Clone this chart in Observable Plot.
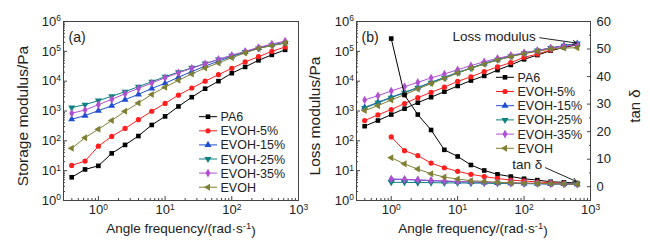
<!DOCTYPE html>
<html><head><meta charset="utf-8">
<script src="https://cdn.jsdelivr.net/npm/d3@7"></script>
<script src="https://cdn.jsdelivr.net/npm/@observablehq/plot@0.6"></script>
<style>
body{margin:0;background:#fff;}
#chart{position:relative;width:650px;height:244px;overflow:hidden;background:#fff;}
#chart > div{position:absolute;top:0;}
</style></head><body><div id="chart"></div>
<script>
// ---------- data ----------
const freq = [0.398, 0.631, 1, 1.585, 2.512, 3.981, 6.31, 10, 15.85, 25.12, 39.81, 63.1, 100, 158.5, 251.2, 398.1, 631];
const freqTan = [1, 1.585, 2.512, 3.981, 6.31, 10, 15.85, 25.12, 39.81, 63.1, 100, 158.5, 251.2, 398.1, 631];
const seriesNames = ["PA6", "EVOH-5%", "EVOH-15%", "EVOH-25%", "EVOH-35%", "EVOH"];

// storage modulus (Pa)
const storagePA6   = [6, 11, 14.5, 38, 73, 145, 340, 660, 1420, 2900, 5600, 10000, 18500, 30000, 50000, 76000, 112000];
const storageE5    = [15, 21, 66, 140, 260, 510, 980, 1800, 3400, 5900, 10000, 16500, 27000, 44000, 66000, 100000, 140000];
const storageE15   = [530, 700, 1030, 1500, 2400, 3600, 5700, 8500, 13500, 21000, 32000, 47000, 67000, 95000, 130000, 165000, 200000];
const storageE25   = [1300, 1630, 2230, 3100, 4450, 6550, 9600, 14100, 20000, 28000, 39000, 53000, 71000, 95000, 125000, 160000, 190000];
const storageE35   = [840, 1080, 1630, 2450, 3800, 5700, 8700, 13000, 19000, 27000, 38000, 54000, 74000, 100000, 135000, 175000, 220000];
const storageEVOH  = [56, 128, 245, 480, 980, 1850, 3600, 6300, 10700, 17500, 27500, 41000, 61000, 88000, 125000, 155000, 190000];

// loss modulus (Pa)
const lossPA6  = [310, 480, 760, 1200, 1900, 2900, 4450, 6900, 10500, 15000, 23500, 35000, 54000, 75000, 105000, 135000, 165000];
const lossE5   = [480, 740, 1120, 1780, 2800, 4200, 6300, 9800, 14000, 21000, 30000, 42000, 63000, 81000, 110000, 142000, 170000];
const lossE15  = [1320, 1950, 2900, 4200, 6150, 9100, 13400, 19600, 27500, 39500, 53000, 69000, 87000, 107000, 129000, 155000, 184000];
const lossE25  = [1250, 1880, 2800, 4100, 6000, 8900, 13100, 19200, 27000, 39000, 52000, 68000, 86000, 106000, 128000, 154000, 182000];
const lossE35  = [2350, 3250, 4700, 6550, 9100, 12800, 17400, 24200, 33000, 45000, 58000, 73000, 90000, 107000, 129000, 151000, 170000];
const lossEVOH = [1030, 1510, 2350, 3530, 5450, 8300, 12300, 18700, 27000, 37000, 51000, 66000, 83000, 100000, 120000, 129000, 132000];

// tan delta
const tanPA6  = [53.8, 33.3, 26.2, 20.6, 13.4, 11.0, 7.9, 5.9, 4.5, 3.7, 2.9, 2.4, 1.8, 1.6, 1.3];
const tanE5   = [18.1, 13.1, 11.3, 8.6, 6.9, 5.6, 4.5, 3.7, 3.0, 2.4, 2.1, 1.7, 1.5, 1.2, 1.0];
const tanE15  = [2.7, 2.6, 2.4, 2.2, 2.0, 1.8, 1.7, 1.5, 1.4, 1.3, 1.2, 1.1, 1.0, 1.0, 0.9];
const tanE25  = [1.6, 1.6, 1.5, 1.5, 1.4, 1.4, 1.3, 1.3, 1.2, 1.2, 1.1, 1.1, 1.0, 1.0, 0.9];
const tanE35  = [2.8, 2.7, 2.5, 2.3, 2.1, 1.9, 1.8, 1.6, 1.5, 1.4, 1.3, 1.2, 1.1, 1.0, 0.9];
const tanEVOH = [10.5, 8.3, 6.4, 4.7, 3.5, 2.8, 2.2, 1.9, 1.6, 1.4, 1.3, 1.2, 1.1, 1.0, 0.9];

// ticks
const xMajorTicks = [1, 10, 100, 1000];
const yMajorTicks = [1, 10, 100, 1000, 10000, 100000, 1000000];
const tanTicks = [0, 10, 20, 30, 40, 50, 60];
const tanMinorTicks = [-5, 5, 15, 25, 35, 45, 55];

// annotations
const lossNote = [{x: 150, y: 3.0e5, text: "Loss modulus", x1: 172, y1: 2.85e5, x2: 615, y2: 1.9e5}];
const tanNote = [{x: 188, y: 8.0, text: "tan δ", x1: 210, y1: 6.9, x2: 615, y2: 1.9}];

// ---------- style ----------
const colors = ["#000000", "#ff1f1f", "#1f4fd0", "#0f8080", "#b050d0", "#808035"];
const symbols = ["square", "circle", "triangle", "triangle", "diamond", "triangle"];
const d3symbols = [d3.symbolSquare, d3.symbolCircle, d3.symbolTriangle, d3.symbolTriangle, d3.symbolDiamond, d3.symbolTriangle];
const rotations = [0, 0, 0, 180, 0, -90];
const FONT = '"Liberation Sans", Arial, Helvetica, sans-serif';
const INK = "#222";
const FRAME = "#444";
const R = 2.6;

function minorLog(lo, hi) {
  const out = [];
  for (let e = lo; e < hi; e++) for (let k = 2; k <= 9; k++) out.push(k * Math.pow(10, e));
  return out;
}
const xMinorTicks = minorLog(-1, 3).filter(v => v >= 0.3);
const yMinorTicks = minorLog(0, 6);
const pow = d => "10^" + Math.round(Math.log10(d));
const blank = () => "";

function seriesMarks(xs, list) {
  const marks = [];
  list.forEach((vals, i) => {
    const data = vals.map((v, j) => ({x: xs[j], y: v}));
    marks.push(Plot.line(data, {x: "x", y: "y", stroke: colors[i], strokeWidth: 1}));
    marks.push(Plot.dot(data, {x: "x", y: "y", symbol: symbols[i], fill: colors[i], stroke: "none", r: R, rotate: rotations[i]}));
  });
  return marks;
}

function logAxes() {
  return [
    Plot.axisX({ticks: xMajorTicks, tickSize: 0, tickPadding: 4, tickFormat: pow, label: null, fill: INK}),
    Plot.axisX({ticks: xMajorTicks, tickSize: -4, tickFormat: blank, label: null, stroke: FRAME}),
    Plot.axisX({ticks: xMinorTicks, tickSize: -2, tickFormat: blank, label: null, stroke: FRAME}),
    Plot.axisY({ticks: yMajorTicks, tickSize: 0, tickPadding: 2.5, tickFormat: pow, label: null, fill: INK}),
    Plot.axisY({ticks: yMajorTicks, tickSize: -4, tickFormat: blank, label: null, stroke: FRAME}),
    Plot.axisY({ticks: yMinorTicks, tickSize: -2, tickFormat: blank, label: null, stroke: FRAME})
  ];
}

function superscripts(svg) {
  d3.select(svg).selectAll("text").each(function () {
    const t = this.textContent;
    if (t && t.includes("^")) {
      const [b, e] = t.split("^");
      const s = d3.select(this);
      s.text(null);
      s.append("tspan").text(b);
      s.append("tspan").attr("dy", "-0.5em").attr("font-size", "0.65em").text(e);
    }
  });
}

function addText(svg, x, y, txt, opts = {}) {
  const t = d3.select(svg).append("text")
    .attr("x", x).attr("y", y)
    .attr("font-family", FONT).attr("font-size", opts.size || 13.5).attr("fill", INK)
    .attr("text-anchor", "middle");
  if (opts.rotate) t.attr("transform", `rotate(${opts.rotate},${x},${y})`);
  if (opts.sup) {
    t.append("tspan").text(txt[0]);
    t.append("tspan").attr("dy", "-0.45em").attr("font-size", "0.7em").text(txt[1]);
    t.append("tspan").attr("dy", "0.45em").text(txt[2]);
  } else t.text(txt);
  return t;
}

function addLegend(svg, x0, y0, step) {
  const g = d3.select(svg).append("g");
  seriesNames.forEach((name, i) => {
    const y = y0 + i * step;
    g.append("line").attr("x1", x0).attr("x2", x0 + 18).attr("y1", y).attr("y2", y)
      .attr("stroke", colors[i]).attr("stroke-width", 1);
    g.append("path").attr("d", d3.symbol(d3symbols[i], Math.PI * R * R)())
      .attr("transform", `translate(${x0 + 9},${y}) rotate(${rotations[i]})`)
      .attr("fill", colors[i]);
    g.append("text").attr("x", x0 + 21.5).attr("y", y).attr("dy", "0.36em")
      .attr("text-anchor", "start")
      .attr("font-family", FONT).attr("font-size", 12.5).attr("fill", INK).text(name);
  });
}

const baseStyle = {fontFamily: FONT, fontSize: "13px", color: INK, background: "transparent", overflow: "visible"};
const chart = document.getElementById("chart");
function place(el, left) {
  const d = document.createElement("div");
  d.style.left = left + "px";
  d.appendChild(el);
  chart.appendChild(d);
  return el;
}

// ---------- panel (a) ----------
const A = {width: 320, height: 244, marginLeft: 63, marginRight: 22, marginTop: 21, marginBottom: 44};
const plotA = Plot.plot({
  ...A,
  style: baseStyle,
  x: {type: "log", domain: [0.3, 1000], label: null},
  y: {type: "log", domain: [1, 1e6], label: null},
  marks: [
    ...seriesMarks(freq, [storagePA6, storageE5, storageE15, storageE25, storageE35, storageEVOH]),
    ...logAxes(),
    Plot.frame({stroke: FRAME, strokeWidth: 1}),
    Plot.text(["(a)"], {text: d => d, frameAnchor: "top-left", dx: 5, dy: 11, textAnchor: "start", fontSize: 14, fill: INK})
  ]
});
place(plotA, 0);
superscripts(plotA);
addLegend(plotA, 199, 116.7, 14.1);
addText(plotA, 28, 116, "Storage modulus/Pa", {rotate: -90, size: 15.5});
addText(plotA, 181, 233, ["Angle frequency/(rad·s", "-1", ")"], {sup: true});

// ---------- panel (b) ----------
const B = {width: 350, height: 244, marginLeft: 56, marginRight: 60, marginTop: 21, marginBottom: 44};
const plotB = Plot.plot({
  ...B,
  style: baseStyle,
  x: {type: "log", domain: [0.3, 1000], label: null},
  y: {type: "log", domain: [1, 1e6], label: null},
  marks: [
    ...seriesMarks(freq, [lossPA6, lossE5, lossE15, lossE25, lossE35, lossEVOH]),
    ...logAxes(),
    Plot.frame({stroke: FRAME, strokeWidth: 1}),
    Plot.text(["(b)"], {text: d => d, frameAnchor: "top-left", dx: 5, dy: 11, textAnchor: "start", fontSize: 14, fill: INK}),
    Plot.text(lossNote, {x: "x", y: "y", text: "text", textAnchor: "end", fontSize: 13.5, fill: INK}),
    Plot.arrow(lossNote, {x1: "x1", y1: "y1", x2: "x2", y2: "y2", stroke: INK, strokeWidth: 1, headLength: 6})
  ]
});
place(plotB, 300);
superscripts(plotB);

const plotT = Plot.plot({
  ...B,
  style: baseStyle,
  x: {type: "log", domain: [0.3, 1000], label: null, axis: null},
  y: {domain: [-5, 60], label: null},
  marks: [
    ...seriesMarks(freqTan, [tanPA6, tanE5, tanE15, tanE25, tanE35, tanEVOH]),
    Plot.axisY({anchor: "right", ticks: tanTicks, tickSize: 0, tickPadding: 6, label: null, fill: INK}),
    Plot.axisY({anchor: "right", ticks: tanTicks, tickSize: -4, tickFormat: blank, label: null, stroke: FRAME}),
    Plot.axisY({anchor: "right", ticks: tanMinorTicks, tickSize: -2, tickFormat: blank, label: null, stroke: FRAME}),
    Plot.text(tanNote, {x: "x", y: "y", text: "text", textAnchor: "end", fontSize: 13.5, fill: INK}),
    Plot.arrow(tanNote, {x1: "x1", y1: "y1", x2: "x2", y2: "y2", stroke: INK, strokeWidth: 1, headLength: 6})
  ]
});
place(plotT, 300);
addLegend(plotT, 196, 77.3, 14.2);
addText(plotT, 20, 116, "Loss modulus/Pa", {rotate: -90, size: 15.5});
addText(plotT, 340, 106, "tan δ", {rotate: -90, size: 15});
addText(plotT, 173, 233, ["Angle frequency/(rad·s", "-1", ")"], {sup: true});
</script></body></html>
